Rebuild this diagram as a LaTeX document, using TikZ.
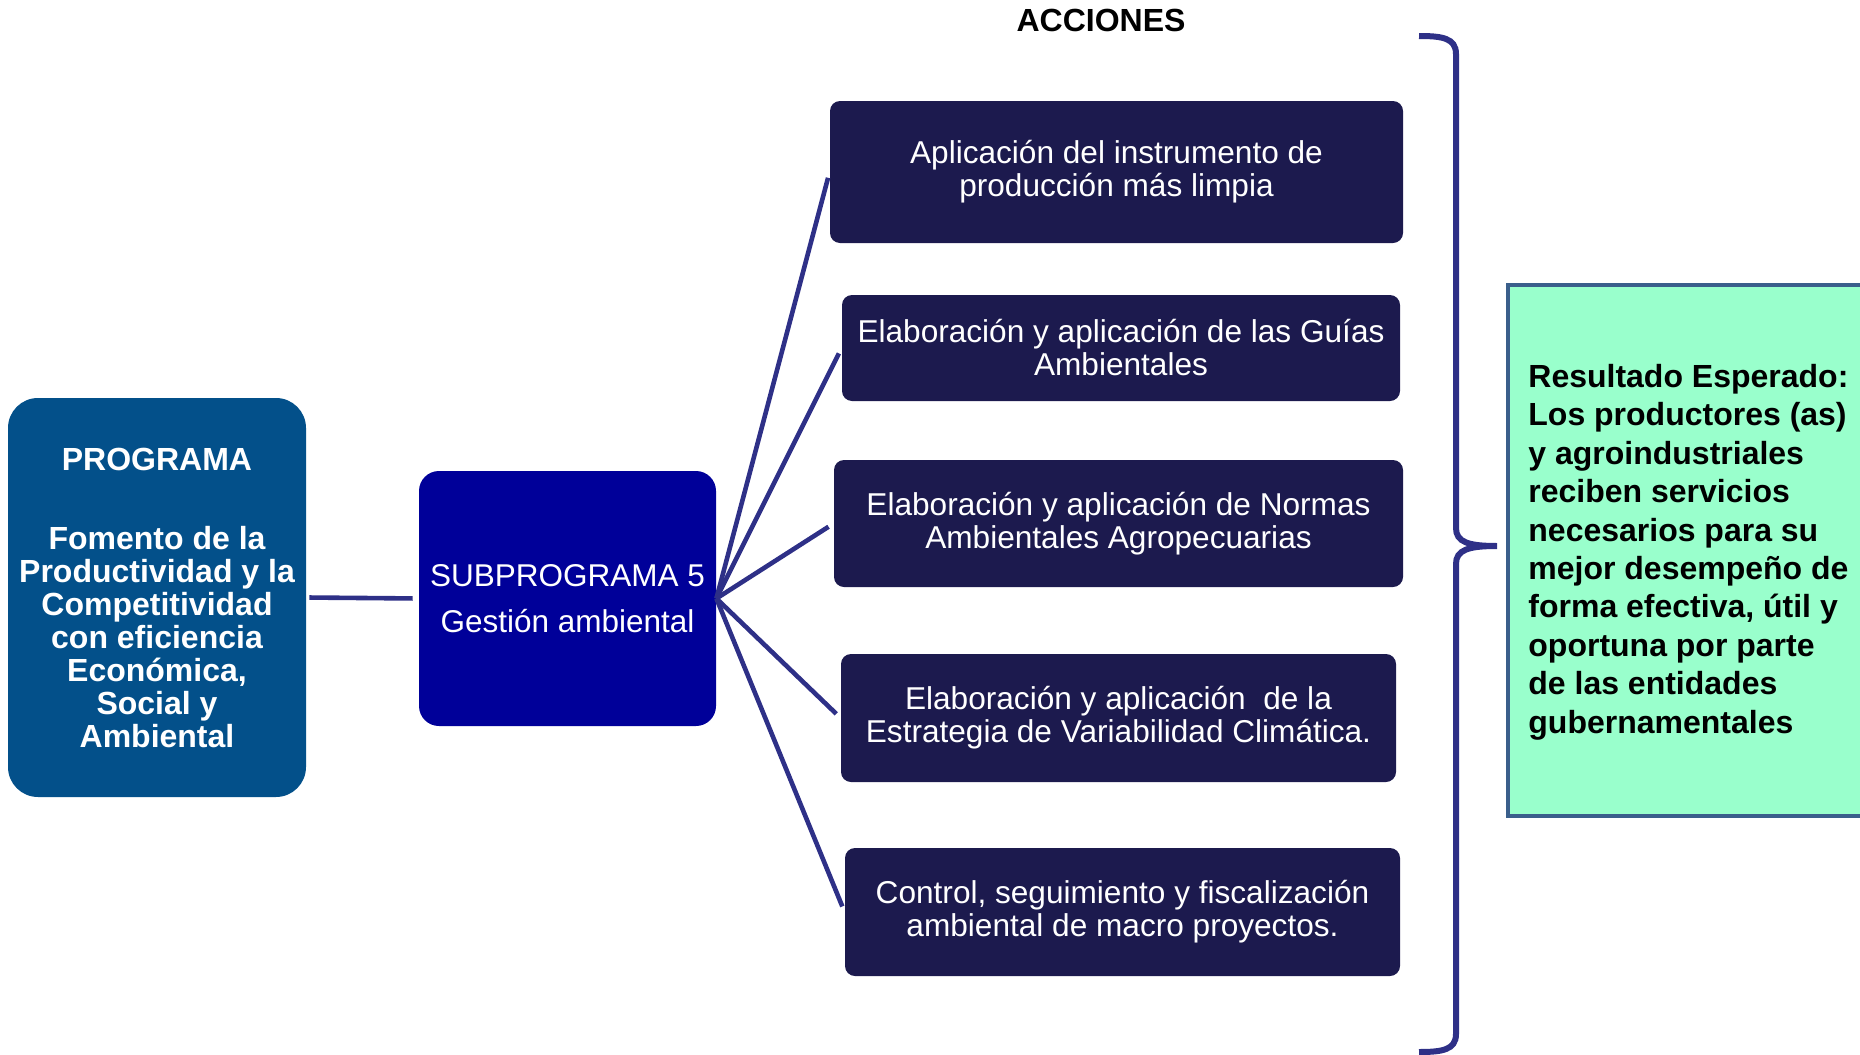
\documentclass[tikz,border=0pt]{standalone}
\usepackage{fontspec}
\setmainfont{Liberation Sans}
\begin{document}
\begin{tikzpicture}[x=0.5pt,y=-0.5pt]
\definecolor{progblue}{RGB}{3,80,138}
\definecolor{subblue}{RGB}{0,0,153}
\definecolor{actfill}{RGB}{28,26,78}
\definecolor{linecol}{RGB}{46,48,135}
\definecolor{resfill}{RGB}{153,255,204}
\definecolor{resdraw}{RGB}{58,95,139}
\tikzset{
  actbox/.style={draw=none, fill=actfill, rounded corners=5pt, text=white, align=center,
    font=\fontsize{15.8pt}{16.5pt}\selectfont, inner sep=0pt},
  conn/.style={draw=linecol, line width=2.3pt},
}
\useasboundingbox (0,0) rectangle (1860,1055);
\clip (0,0) rectangle (1860,1055);

% title
\node[font=\bfseries\fontsize{16pt}{19pt}\selectfont] (title) at (1101,20) {ACCIONES};

% program box
\node[fill=progblue, rounded corners=15pt, text=white, align=center, inner sep=0pt,
  minimum width=149pt, minimum height=199.5pt,
  font=\bfseries\fontsize{16pt}{16.5pt}\selectfont] (prog) at (157,597.5)
  {PROGRAMA\\[23pt]Fomento de la\\Productividad y la\\Competitividad\\con eficiencia\\Económica,\\Social y\\Ambiental};

% subprogram box
\node[fill=subblue, rounded corners=10pt, text=white, align=center, inner sep=0pt,
  minimum width=148.5pt, minimum height=127.5pt,
  font=\fontsize{15.75pt}{23pt}\selectfont] (sub) at (567.5,598.5)
  {SUBPROGRAMA 5\\Gestión ambiental};

% action boxes
\node[actbox, minimum width=286.5pt, minimum height=71pt] (a1) at (1116.5,172)
  {Aplicación del instrumento de\\producción más limpia};
\node[actbox, minimum width=279pt, minimum height=53pt] (a2) at (1121,348)
  {Elaboración y aplicación de las Guías\\Ambientales};
\node[actbox, minimum width=284.5pt, minimum height=63.5pt] (a3) at (1118.5,523.5)
  {Elaboración y aplicación de Normas\\Ambientales Agropecuarias};
\node[actbox, minimum width=277.5pt, minimum height=64pt] (a4) at (1118.5,718)
  {Elaboración y aplicación~ de la\\Estrategia de Variabilidad Climática.};
\node[actbox, minimum width=277.5pt, minimum height=64pt] (a5) at (1122.5,912)
  {Control, seguimiento y fiscalización\\ambiental de macro proyectos.};

% connectors
\draw[conn, shorten <=1.5pt, shorten >=3pt] (prog.east) -- (sub.west);
\foreach \n in {a1,a2,a3,a4,a5}{
  \draw[conn, shorten >=3pt] (sub.east) -- (\n.west);
}

% bracket
\draw[draw=linecol, line width=3pt]
  (1419,36) .. controls (1442,36) and (1456,38) .. (1456,54)
  -- (1456,528)
  .. controls (1456,542) and (1468,546) .. (1497,546)
  .. controls (1468,546) and (1456,550) .. (1456,564)
  -- (1456,1034)
  .. controls (1456,1050) and (1442,1052) .. (1419,1052);

% result box
\draw[fill=resfill, draw=resdraw, line width=2pt] (1508,285) rectangle (1890,816);
\node[anchor=west, align=left, inner sep=0pt,
  font=\bfseries\fontsize{16pt}{19.2pt}\selectfont] (res) at (1528,552)
  {Resultado Esperado:\\Los productores (as)\\y agroindustriales\\reciben servicios\\necesarios para su\\mejor desempeño de\\forma efectiva, útil y\\oportuna por parte\\de las entidades\\gubernamentales};
\end{tikzpicture}
\end{document}
